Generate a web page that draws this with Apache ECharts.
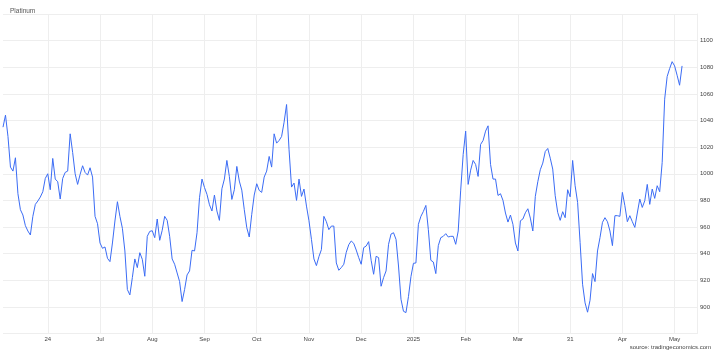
<!DOCTYPE html>
<html><head><meta charset="utf-8">
<script src="https://cdn.jsdelivr.net/npm/echarts/dist/echarts.min.js"></script>
<style>html,body{margin:0;padding:0;background:#fff}#c{width:720px;height:356px}</style>
</head><body><div id="c"></div>
<script>
const chartTitle = 'Platinum';
const sourceText = 'source: tradingeconomics.com';
const tickLabels = ['24','Jul','Aug','Sep','Oct','Nov','Dec','2025','Feb','Mar','31','Apr','May'];
const tickStart = 18;
const tickStep = 21;
const categoryCount = 280;
const values = [
1035,1044,1028,1005,1002,1012,985,973,969,961,
957,954,968,977,979.5,982.5,986.5,996.5,1000,988,
1011.5,996,994,981,996.5,1001,1002,1030,1016,1000,
992,999.5,1006,1001,999,1004.5,997.5,968,962.5,948,
944,945,936.5,934,948,964.5,979,968,959,942,
913,909,922,936,929.5,940.7,935.7,923,953,956.7,
957.2,952,966,950,957.5,968,965,953,936,932,
925.5,919,904,913,924,927,942.5,942,955.7,982,
996,989.7,984.5,976.7,972,984,972,965,988.7,996,
1010,998,980.7,988,1005.5,994.5,987.7,973,959.5,952.5,
969.5,984,992.5,987.5,986,997.5,1002,1013,1005,1030,
1023,1025,1028,1038.7,1052,1018,990,993,980,996,
983,988.5,975.7,964.7,950.7,936,931,937.7,943,968,
964,958,960.7,960.7,933,927.5,929.5,932,941,946.7,
949.5,947.7,942.7,937,932,944.5,945.7,949,935,924.5,
938,937,915.5,922,927,947,954.7,955.7,950.7,930.7,
905.7,896.7,895.7,907.7,922.7,932.7,933,962,968,971.7,
976.2,958,935,933.7,925,946,952,953,955,952.5,
953,953,947,957,987.7,1014.5,1032,992,1002.7,1010,
1007,998,1022,1025,1032,1036,1007,996,996,983.7,
985,980,970.5,963.7,969,962,948,942,964.7,966,
970.7,973.7,966.7,957,983,994,1003,1008,1016.7,1019,
1011.7,1003.5,983.5,971,965,971.5,967,988,982.7,1010,
991,978.5,948.5,917,903,896,905,925,919,942,
952,963.5,967,964,957,946,968.5,968.5,968,986,
976,964,968.5,964,959.7,970.5,981,974.7,979.7,992,
977,988.5,981.5,991,986.5,1008.5,1056,1073,1079,1084.2,
1081,1074,1066.5,1081
];
const categories = Array.from({length: categoryCount}, (_, i) => String(i));

const font = '"Liberation Sans", Arial, sans-serif';
const isTick = (idx) => idx >= tickStart && (idx - tickStart) % tickStep === 0 && (idx - tickStart) / tickStep < tickLabels.length;
const gridColor = '#eeeeee';

const chart = echarts.init(document.getElementById('c'), null, {renderer: 'canvas'});
chart.setOption({
  animation: false,
  backgroundColor: '#ffffff',
  title: [
    {text: chartTitle, left: 5, top: 3, textStyle: {fontSize: 6.5, fontWeight: 'normal', color: '#555', fontFamily: font}},
    {text: sourceText, right: 4, bottom: 1, textStyle: {fontSize: 6, fontWeight: 'normal', color: '#444', fontFamily: font}}
  ],
  grid: {left: 3, right: 23, top: 14, bottom: 22.5, containLabel: false},
  xAxis: {
    type: 'category', data: categories, boundaryGap: false,
    axisLine: {show: false}, axisTick: {show: false},
    axisLabel: {
      interval: (idx) => isTick(idx),
      formatter: (val, idx) => tickLabels[(Number(val) - tickStart) / tickStep] || '',
      fontSize: 6, color: '#444', margin: 3, fontFamily: font
    },
    splitLine: {show: true, interval: (idx) => isTick(idx), lineStyle: {color: gridColor, width: 1}}
  },
  yAxis: {
    type: 'value', position: 'right', min: 880, max: 1120, interval: 20,
    axisLine: {show: true, lineStyle: {color: gridColor}}, axisTick: {show: false},
    axisLabel: {showMinLabel: false, showMaxLabel: false, fontSize: 6, color: '#444', margin: 3, fontFamily: font,
      formatter: (v) => String(v)},
    splitLine: {show: true, lineStyle: {color: gridColor, width: 1}}
  },
  series: [{
    name: chartTitle, type: 'line', data: values, showSymbol: false, symbol: 'none',
    lineStyle: {color: '#3b6cf5', width: 1}, itemStyle: {color: '#3b6cf5'}
  }]
});
</script>
</body></html>
